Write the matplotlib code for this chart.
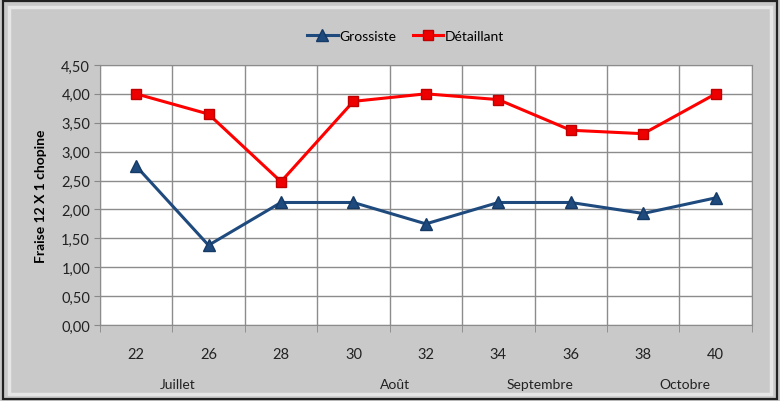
import numpy as np
import matplotlib.pyplot as plt
from matplotlib.patches import Rectangle
from matplotlib.ticker import FuncFormatter, FixedLocator

plt.rcParams['font.family'] = ['Lato', 'DejaVu Sans']

# data
semaines = ['22', '26', '28', '30', '32', '34', '36', '38', '40']
mois = ['Juillet', 'Août', 'Septembre', 'Octobre']
mois_groupes = [[0, 1], [3, 4], [5, 6], [7, 8]]
grossiste = [2.75, 1.38, 2.12, 2.12, 1.75, 2.12, 2.12, 1.93, 2.20]
detaillant = [4.00, 3.65, 2.48, 3.87, 4.00, 3.90, 3.37, 3.31, 4.00]

fig = plt.figure(figsize=(7.8, 4.02), dpi=100)
fig.patch.set_facecolor('#c9c9c9')

# frame around the chart
fig.patches.append(Rectangle((0.004, 0.006), 0.992, 0.988, transform=fig.transFigure,
                             fill=False, edgecolor='#222222', linewidth=1.6))
fig.patches.append(Rectangle((0.012, 0.018), 0.976, 0.962, transform=fig.transFigure,
                             fill=False, edgecolor='#e6e6e6', linewidth=2.5))

ax = fig.add_axes([0.128, 0.189, 0.836, 0.647])
ax.set_facecolor('white')

x = np.arange(len(semaines))
ax.plot(x, grossiste, color='#1f4a7e', linewidth=2.2, marker='^', markersize=8,
        markerfacecolor='#1f4a7e', markeredgecolor='#163a66', label='Grossiste', zorder=3)
ax.plot(x, detaillant, color='#ff0000', linewidth=2.2, marker='s', markersize=7.5,
        markerfacecolor='#ee0000', markeredgecolor='#c00000', label='Détaillant', zorder=3)

ax.set_xlim(-0.5, len(semaines) - 0.5)
ax.set_ylim(0, 4.5)
ax.set_yticks(np.arange(0, 4.51, 0.5))
ax.yaxis.set_major_formatter(FuncFormatter(lambda v, p: f'{v:.2f}'.replace('.', ',')))

ax.set_xticks(x)
ax.set_xticklabels(semaines)
ax.xaxis.set_minor_locator(FixedLocator(np.arange(-0.5, len(semaines), 1.0)))
ax.tick_params(axis='x', which='major', length=0, pad=16, labelsize=10.5, colors='#222222')
ax.tick_params(axis='x', which='minor', length=5, color='#888888', direction='out')
ax.tick_params(axis='y', length=4, color='#888888', labelsize=10.5, colors='#222222', pad=3)
ax.grid(axis='y', color='#8c8c8c', linewidth=1.0)
ax.grid(axis='x', which='minor', color='#8c8c8c', linewidth=1.0)
ax.set_axisbelow(True)
for s in ax.spines.values():
    s.set_color('#8c8c8c')

ax.set_ylabel('Fraise 12 X 1 chopine', fontsize=10, fontweight='bold', labelpad=10)

for nom, grp in zip(mois, mois_groupes):
    ax.text(np.mean(grp) + 0.08, -0.227, nom, transform=ax.get_xaxis_transform(),
            ha='center', va='center', fontsize=10, color='#222222')

fig.legend(loc='upper center', bbox_to_anchor=(0.52, 0.955), ncol=2, frameon=False,
           fontsize=10, handlelength=2.2, handletextpad=0.1, columnspacing=1.2)

fig.savefig('out.png', dpi=100, facecolor=fig.get_facecolor())
